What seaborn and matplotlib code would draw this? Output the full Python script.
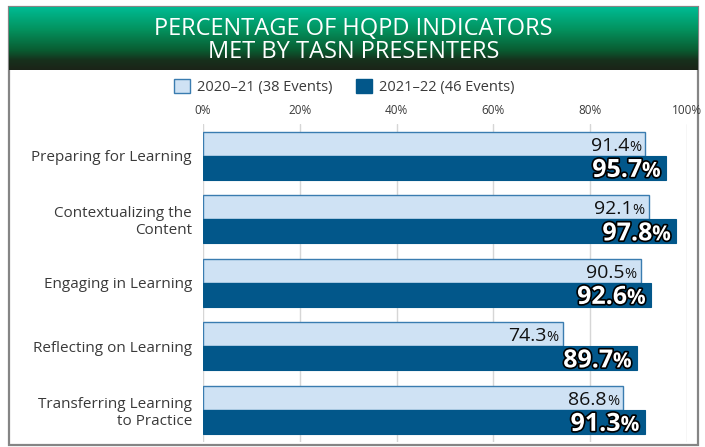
import numpy as np
import pandas as pd
import matplotlib
matplotlib.use('Agg')
import matplotlib.pyplot as plt
from matplotlib.patches import Patch, Rectangle
from matplotlib.colors import LinearSegmentedColormap
import matplotlib.patheffects as pe
import seaborn as sns

# Datos
categorias = ['Preparing for Learning', 'Contextualizing the\nContent', 'Engaging in Learning',
              'Reflecting on Learning', 'Transferring Learning\nto Practice']
valores_2021 = [91.4, 92.1, 90.5, 74.3, 86.8]
valores_2122 = [95.7, 97.8, 92.6, 89.7, 91.3]
series = ['2020\u201321 (38 Events)', '2021\u201322 (46 Events)']
ticks = [0, 20, 40, 60, 80, 100]
titulo = 'PERCENTAGE OF HQPD INDICATORS\nMET BY TASN PRESENTERS'

df = pd.DataFrame({
    'categoria': categorias * 2,
    'valor': valores_2021 + valores_2122,
    'serie': [series[0]] * len(categorias) + [series[1]] * len(categorias),
})

sns.set_style('white')
plt.rcParams['font.family'] = ['Open Sans', 'DejaVu Sans']

claro = '#cfe2f4'
borde = '#3a7cb0'
oscuro = '#02578a'
gris = '#3a3a3a'

W, H = 705, 447
fig = plt.figure(figsize=(W / 100, H / 100), dpi=100)

# Marco exterior
fig.add_artist(Rectangle((9 / W, 1 - 445 / H), 689 / W, 438 / H, transform=fig.transFigure,
                         facecolor='none', edgecolor='#858585', lw=1.6, zorder=0))

# Banner con degradado
ax_b = fig.add_axes([9 / W, 1 - 70 / H, 689 / W, 63 / H])
cmap = LinearSegmentedColormap.from_list('verde', [(0, '#00bb93'), (0.35, '#03935f'),
                                                  (0.7, '#0a5a30'), (0.85, '#17301c'), (1, '#1b2418')])
ax_b.imshow(np.linspace(0, 1, 100).reshape(-1, 1), aspect='auto', cmap=cmap,
            extent=[0, 1, 0, 1])
ax_b.set_xlim(0, 1)
ax_b.set_ylim(0, 1)
ax_b.axis('off')
ax_b.text(0.5, 0.47, titulo, color='white', fontsize=17, ha='center', va='center',
          linespacing=0.98)

# Gráfico principal
ax = fig.add_axes([203 / W, 1 - 441.5 / H, 484 / W, 317.5 / H])
sns.barplot(data=df, y='categoria', x='valor', hue='serie', orient='h',
            palette=[claro, oscuro], saturation=1, width=0.76, ax=ax, legend=False, zorder=3)

for bar in ax.containers[0]:
    bar.set_edgecolor(borde)
    bar.set_linewidth(1.0)
for bar in ax.containers[1]:
    bar.set_edgecolor(oscuro)
    bar.set_linewidth(0.8)

ax.set_xlim(0, 100)
ax.set_ylim(4.5, -0.5)
ax.xaxis.tick_top()
ax.set_xticks(ticks)
ax.set_xticklabels([f'{t}%' for t in ticks], fontsize=8.5, color=gris)
ax.tick_params(axis='x', length=0, pad=5)
ax.tick_params(axis='y', length=0, pad=8, labelsize=11, labelcolor=gris)
ax.set_xlabel('')
ax.set_ylabel('')
for s in ax.spines.values():
    s.set_visible(False)
ax.grid(axis='x', color='#d6d6d6', lw=1, zorder=0)
ax.set_axisbelow(True)

# Etiquetas de valores (número + % más pequeño)
renderer = fig.canvas.get_renderer()
estilos = [
    dict(num=14, pct=10.5, weight='normal', color='#111111', dx=-3, dy=-5, efectos=None),
    dict(num=18, pct=15, weight='bold', color='white', dx=-4, dy=-6.5,
         efectos=[pe.withStroke(linewidth=2.4, foreground='black')]),
]
for cont, est in zip(ax.containers, estilos):
    for bar in cont:
        v = bar.get_width()
        yc = bar.get_y() + bar.get_height() / 2
        t_pct = ax.annotate('%', xy=(v, yc), xytext=(est['dx'], est['dy']), textcoords='offset points',
                            ha='right', va='baseline', fontsize=est['pct'], fontweight=est['weight'],
                            color=est['color'], zorder=5, path_effects=est['efectos'])
        w = t_pct.get_window_extent(renderer).width * 72 / fig.dpi
        ax.annotate(f'{v:.1f}', xy=(v, yc), xytext=(est['dx'] - w, est['dy']), textcoords='offset points',
                    ha='right', va='baseline', fontsize=est['num'], fontweight=est['weight'],
                    color=est['color'], zorder=5, path_effects=est['efectos'])

# Leyenda
manejadores = [Patch(facecolor=claro, edgecolor=borde, lw=1), Patch(facecolor=oscuro, edgecolor=oscuro)]
fig.legend(manejadores, series, loc='center', bbox_to_anchor=(0.488, 1 - 87 / H), ncol=2,
           frameon=False, fontsize=10.5, handlelength=1.1, handleheight=1.1, handletextpad=0.5,
           columnspacing=1.6, labelcolor=gris)

fig.savefig('out.png', dpi=100)
